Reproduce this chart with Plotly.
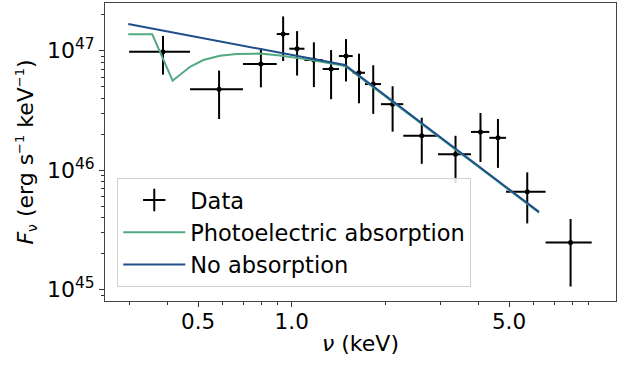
import plotly.graph_objects as go

# Data points (keV, erg s^-1 keV^-1)
nu_data = [0.3855, 0.584, 0.796, 0.9385, 1.0405, 1.1785, 1.3385, 1.495, 1.646,
           1.829, 2.111, 2.62, 3.364, 4.047, 4.606, 5.722, 7.887]
nu_halfwidth = [0.0855, 0.113, 0.099, 0.0435, 0.0585, 0.0795, 0.0805, 0.076, 0.075,
                0.108, 0.174, 0.335, 0.409, 0.274, 0.285, 0.831, 1.334]
F_data = [9.81e46, 4.75e46, 7.74e46, 1.38e47, 1.04e47, 8.36e46, 7.03e46, 9.03e46, 6.54e46,
          5.26e46, 3.57e46, 1.94e46, 1.36e46, 2.09e46, 1.865e46, 6.58e45, 2.48e45]
F_err = [3.5e46, 2.07e46, 2.8e46, 5.6e46, 4.2e46, 3.4e46, 3.1e46, 3.5e46, 2.9e46,
         2.3e46, 1.47e46, 8.1e45, 5.8e45, 9.2e45, 8.2e45, 3.0e45, 1.42e45]

# Model curves
nu_abs = [0.298, 0.356, 0.414, 0.471, 0.520, 0.588, 0.665, 0.791, 0.917, 1.117, 1.430, 1.495, 6.243]
F_abs = [1.372e47, 1.372e47, 5.61e46, 7.34e46, 8.36e46, 9.08e46, 9.38e46, 9.47e46, 9.12e46,
         8.47e46, 7.59e46, 7.37e46, 4.40e45]
nu_noabs = [0.298, 1.484, 6.243]
F_noabs = [1.674e47, 7.59e46, 4.47e45]

x_tickvals = [0.5, 1.0, 5.0]
x_ticktext = ["0.5", "1.0", "5.0"]
x_minor = [0.3, 0.4, 0.6, 0.7, 0.8, 0.9, 2, 3, 4, 6, 7, 8, 9]
y_tickvals = [1e45, 1e46, 1e47]
y_ticktext = ["10<sup>45</sup>", "10<sup>46</sup>", "10<sup>47</sup>"]
y_minor = [k * 10.0 ** n for n in (44, 45, 46, 47) for k in range(2, 10)]

GREEN = "#52a982"
BLUE = "#1f4f8b"
FONT = "DejaVu Sans"

SUP = '<sup><span style="font-size:13px">−1</span></sup>'
y_title = '<i>F</i><sub><span style="font-size:14px">ν</span></sub> (erg s' + SUP + ' keV' + SUP + ')'

fig = go.Figure()
fig.add_trace(go.Scatter(
    x=nu_data, y=F_data, mode="markers", showlegend=False,
    marker=dict(color="black", size=5),
    error_x=dict(type="data", array=nu_halfwidth, color="black", thickness=2, width=0),
    error_y=dict(type="data", array=F_err, color="black", thickness=2, width=0),
))
fig.add_trace(go.Scatter(
    x=[None], y=[None], mode="markers", name="Data",
    marker=dict(symbol="cross-thin", size=16, color="black", line=dict(color="black", width=2)),
))
fig.add_trace(go.Scatter(
    x=nu_abs, y=F_abs, mode="lines", name="Photoelectric absorption",
    line=dict(color=GREEN, width=2),
))
fig.add_trace(go.Scatter(
    x=nu_noabs, y=F_noabs, mode="lines", name="No absorption",
    line=dict(color=BLUE, width=2),
))

fig.update_layout(
    width=628, height=365,
    margin=dict(l=105, r=12, t=3, b=64),
    paper_bgcolor="white", plot_bgcolor="white",
    font=dict(family=FONT, color="black", size=22),
    legend=dict(
        x=0.024, y=0.413, xanchor="left", yanchor="top",
        bgcolor="rgba(255,255,255,0.85)", bordercolor="#d0d0d0", borderwidth=1,
        font=dict(family=FONT, size=22.5, color="black"),
        itemwidth=62,
    ),
)
fig.update_xaxes(
    type="log", range=[-0.6005, 1.043],
    tickmode="array", tickvals=x_tickvals, ticktext=x_ticktext,
    ticks="outside", ticklen=5, tickwidth=1, tickcolor="#333",
    minor=dict(tickmode="array", tickvals=x_minor, ticks="outside", ticklen=3, tickcolor="#333", showgrid=False),
    showgrid=False, zeroline=False,
    showline=True, linecolor="#444", linewidth=1, mirror=True,
    tickfont=dict(size=21.5), ticklabelstandoff=-4,
    title=dict(text="<i>ν</i> (keV)", font=dict(size=22), standoff=2),
)
fig.update_yaxes(
    type="log", range=[44.904, 47.40],
    tickmode="array", tickvals=y_tickvals, ticktext=y_ticktext,
    ticks="outside", ticklen=5, tickwidth=1, tickcolor="#333",
    minor=dict(tickmode="array", tickvals=y_minor, ticks="outside", ticklen=3, tickcolor="#333", showgrid=False),
    showgrid=False, zeroline=False,
    showline=True, linecolor="#444", linewidth=1, mirror=True,
    tickfont=dict(size=22),
    title=dict(text=y_title, font=dict(size=22), standoff=7),
)

fig.write_html("out.html")
